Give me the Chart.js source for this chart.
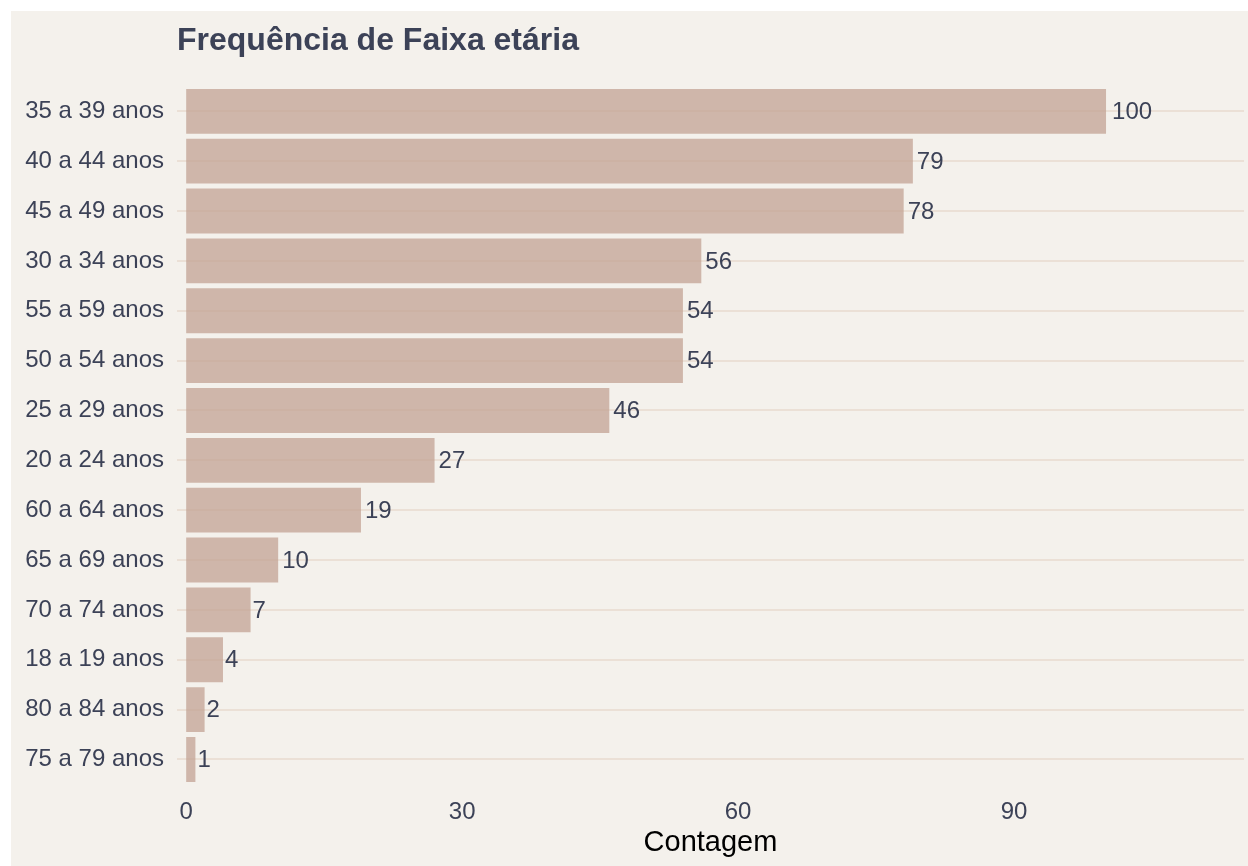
<!DOCTYPE html>
<html>
<head>
<meta charset="utf-8">
<script src="https://cdn.jsdelivr.net/npm/chart.js@4"></script>
<style>
    body { margin: 0; background: #ffffff; }
    #wrap { position: absolute; left: 11px; top: 11px; width: 1237px; height: 855px; background: #f4f1ec; }
</style>
</head>
<body>
<div id="wrap"><canvas id="faixaChart"></canvas></div>
<script>
// faixas etárias, ordenadas pela contagem
const faixas = ['35 a 39 anos', '40 a 44 anos', '45 a 49 anos', '30 a 34 anos', '55 a 59 anos',
    '50 a 54 anos', '25 a 29 anos', '20 a 24 anos', '60 a 64 anos', '65 a 69 anos',
    '70 a 74 anos', '18 a 19 anos', '80 a 84 anos', '75 a 79 anos']
const contagem = [100, 79, 78, 56, 54, 54, 46, 27, 19, 10, 7, 4, 2, 1]
const xTicks = [0, 30, 60, 90]

const textColor = '#3c4257'
const fontFamily = "'Liberation Sans', Arial, sans-serif"

// escreve o valor no fim de cada barra
const valueLabels = {
    id: 'valueLabels',
    afterDatasetsDraw(chart) {
        const ctx = chart.ctx
        const meta = chart.getDatasetMeta(0)
        ctx.save()
        ctx.font = '24px ' + fontFamily
        ctx.fillStyle = textColor
        ctx.textAlign = 'left'
        ctx.textBaseline = 'middle'
        meta.data.forEach(function (bar, i) {
            let txt = String(contagem[i])
            let w = ctx.measureText(txt).width
            ctx.fillText(txt, bar.x + w * 0.15, bar.y + 1)
        })
        ctx.restore()
    }
}

new Chart(document.getElementById('faixaChart'), {
    type: 'bar',
    data: {
        labels: faixas,
        datasets: [{
            label: 'Contagem',
            data: contagem,
            backgroundColor: 'rgba(192,160,144,0.72)',
            borderWidth: 0,
            categoryPercentage: 0.9,
            barPercentage: 1
        }]
    },
    options: {
        indexAxis: 'y',
        responsive: true,
        maintainAspectRatio: false,
        animation: false,
        layout: { padding: { left: 0, right: 4, top: 0, bottom: 0 } },
        plugins: {
            legend: { display: false },
            tooltip: { enabled: false },
            title: {
                display: true,
                text: 'Frequência de Faixa etária',
                align: 'start',
                fullSize: false,
                color: textColor,
                font: { family: fontFamily, size: 32, weight: 'bold' },
                padding: { top: 11, bottom: 26 }
            }
        },
        scales: {
            x: {
                min: -1,
                max: 115,
                afterBuildTicks(scale) {
                    scale.ticks = xTicks.map(v => ({ value: v }))
                },
                afterFit(scale) { scale.height = 81.6 },
                grid: { display: false, drawTicks: false },
                border: { display: false },
                ticks: { color: textColor, padding: 14, font: { family: fontFamily, size: 24 } },
                title: {
                    display: true,
                    text: 'Contagem',
                    color: '#000000',
                    font: { family: fontFamily, size: 29 },
                    padding: { top: 0, bottom: 6 }
                }
            },
            y: {
                afterFit(scale) { scale.width = 166 },
                grid: { color: '#ebe0d6', lineWidth: 2, offset: false, drawTicks: false },
                border: { display: false },
                ticks: { color: textColor, padding: 13, font: { family: fontFamily, size: 24 } }
            }
        }
    },
    plugins: [valueLabels]
})
</script>
</body>
</html>
